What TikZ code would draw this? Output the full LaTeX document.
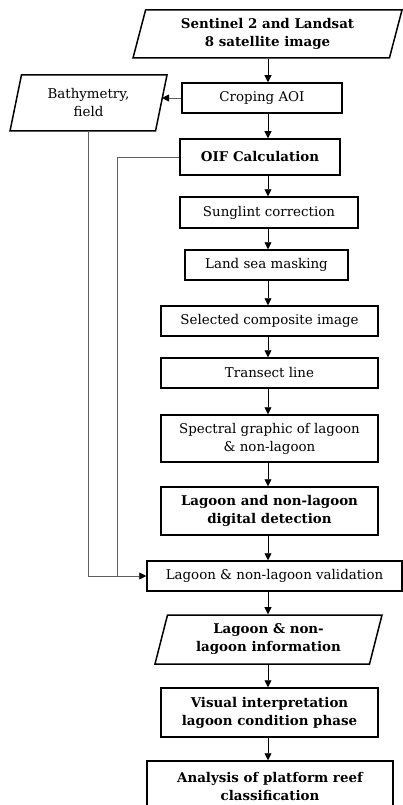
\documentclass[tikz,border=0pt]{standalone}
\usepackage{fontspec}
\setmainfont{DejaVu Serif}
\usetikzlibrary{shapes.geometric,arrows.meta}
\newcommand{\flowfont}{\fontsize{13.4}{18}\selectfont}
\tikzset{
  box/.style={draw, line width=1.5pt, align=center, inner sep=0pt,
    minimum height=30pt, font=\flowfont},
  io/.style={draw, trapezium, trapezium left angle=68, trapezium right angle=112,
    trapezium stretches body, line width=1.5pt, align=center, inner sep=0pt,
    font=\flowfont},
  bold/.style={font=\flowfont\bfseries},
  arr/.style={-{Triangle[length=7pt,width=7pt,color=black]}, line width=0.8pt},
  side/.style={line width=0.7pt, draw=gray!75!black}
}
\begin{document}
\begin{tikzpicture}[x=1pt,y=1pt]
  \useasboundingbox (0,0) rectangle (403,-805);
  \node[io, bold, minimum width=269pt, minimum height=48pt] (sat) at (267.5,-34) {Sentinel 2 and Landsat\\8 satellite image};
  \node[box, minimum width=160pt] (crop) at (262,-98) {Croping AOI};
  \node[io, minimum width=157pt, minimum height=56pt] (bath) at (88.5,-103) {Bathymetry,\\field};
  \node[box, bold, minimum width=160pt, minimum height=36pt] (oif) at (260,-157) {OIF Calculation};
  \node[box, minimum width=178pt, minimum height=31pt] (sun) at (269,-212.5) {Sunglint correction};
  \node[box, minimum width=163pt] (mask) at (266.5,-265) {Land sea masking};
  \node[box, minimum width=217pt] (comp) at (269.5,-321) {Selected composite image};
  \node[box, minimum width=217pt] (tran) at (269.5,-373) {Transect line};
  \node[box, minimum width=217pt, minimum height=47pt] (spec) at (269.5,-438.5) {Spectral graphic of lagoon\\\& non-lagoon};
  \node[box, bold, minimum width=217pt, minimum height=48pt] (det) at (269.5,-511) {Lagoon and non-lagoon\\digital detection};
  \node[box, minimum width=255pt] (val) at (274.5,-576) {Lagoon \& non-lagoon validation};
  \node[io, bold, minimum width=227pt, minimum height=49pt] (info) at (268.5,-639.5) {Lagoon \& non-\\lagoon information};
  \node[box, bold, minimum width=217pt, minimum height=49pt] (vis) at (269.5,-712.5) {Visual interpretation\\lagoon condition phase};
  \node[box, bold, minimum width=246pt, minimum height=50pt] (ana) at (270,-786) {Analysis of platform reef\\classification};

  \coordinate (col) at (268,0);
  \coordinate (join) at (117,0);
  \foreach \a/\b in {sat/crop,crop/oif,oif/sun,sun/mask,mask/comp,comp/tran,tran/spec,spec/det,det/val,val/info,info/vis,vis/ana}
    \draw[arr] (\a.south -| col) -- (\b.north -| col);

  \draw[side, arr] (crop.west) -- (crop.west -| bath.east);
  \draw[side, arr] (bath.south) |- (val.west);
  \draw[side] (oif.west) -| (join |- val.west);
\end{tikzpicture}
\end{document}
